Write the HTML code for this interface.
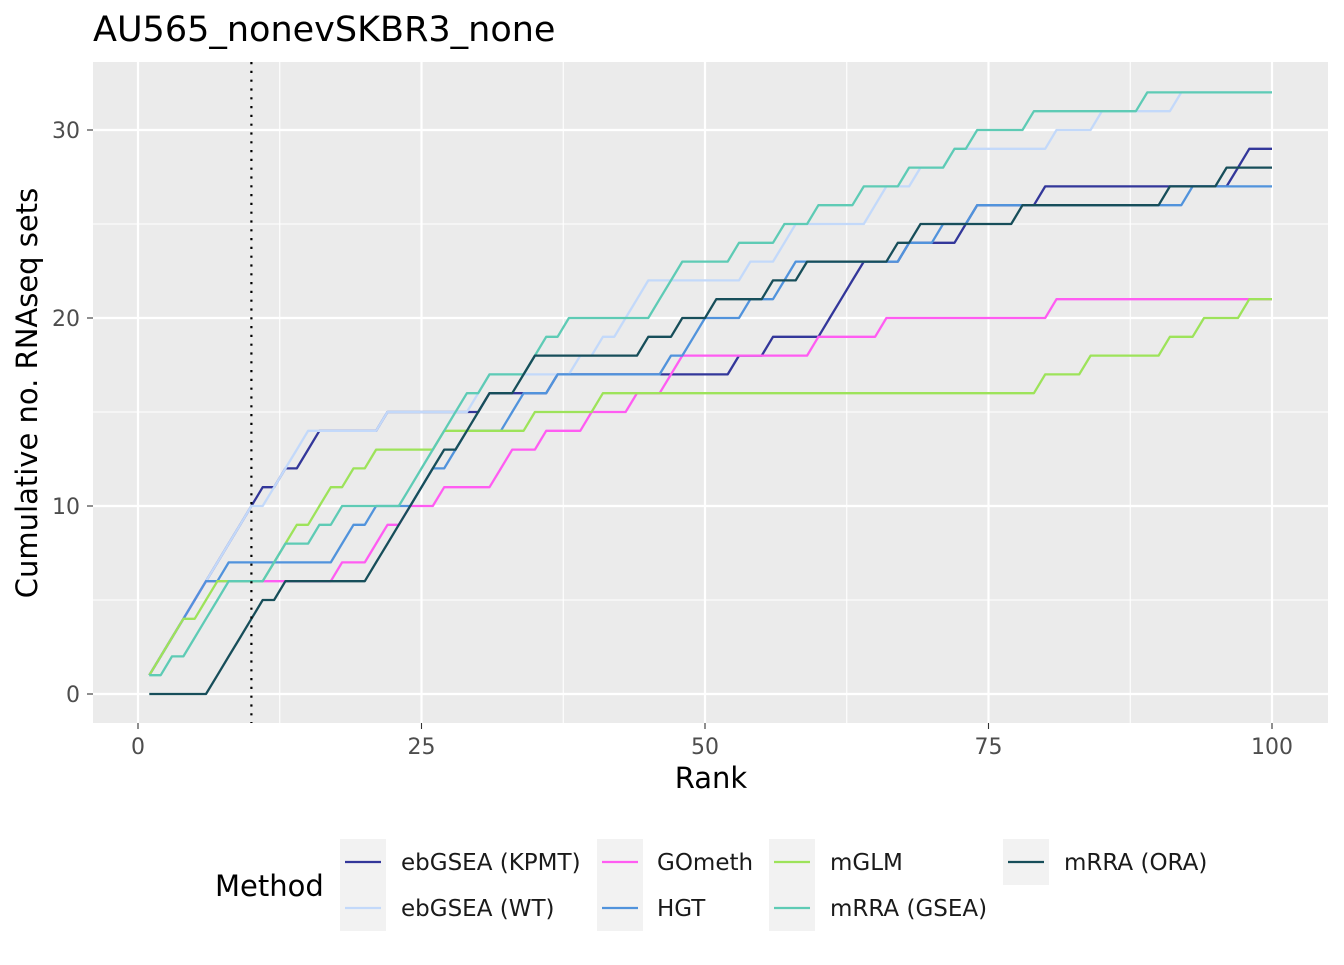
<!DOCTYPE html>
<html><head><meta charset="utf-8"><style>
body{margin:0;background:#fff;}
svg text{font-family:"DejaVu Sans","Liberation Sans",sans-serif;}
</style></head><body>
<svg id="chart" width="1344" height="960" xmlns="http://www.w3.org/2000/svg">
<rect width="1344" height="960" fill="#fff"/>
<text x="93" y="41" font-size="35" fill="#000">AU565_nonevSKBR3_none</text>
<rect x="93" y="62" width="1235" height="661" fill="#ebebeb"/>
<g id="grid"></g><g id="lines"></g><g id="axes"></g><g id="legend"></g>
</svg>
<script>
const ranks = Array.from({length:100},(_, i)=>i+1);
const xTicks = [0,25,50,75,100];
const yTicks = [0,10,20,30];
const seriesNames = ["ebGSEA (KPMT)","ebGSEA (WT)","GOmeth","HGT","mGLM","mRRA (GSEA)","mRRA (ORA)"];
// ranks at which each method found a new RNAseq set (cumulative count = hits <= rank)
const hitsKPMT = [1,2,3,4,5,6,7,8,9,10,11,13,15,16,22,31,37,53,56,61,62,63,64,68,73,74,80,97,98];
const hitsWT = [1,2,3,4,5,6,7,8,9,10,12,13,14,15,22,30,31,39,41,43,44,45,54,57,58,65,66,69,72,81,85,92];
const hitsGOmeth = [1,2,3,4,5,6,18,21,22,24,27,32,33,36,40,44,47,48,60,66,81];
const hitsHGT = [1,2,3,4,5,6,8,18,19,21,25,26,28,29,33,34,37,47,49,50,54,57,58,68,71,74,93];
const hitsMGLM = [1,2,3,4,6,7,12,13,14,16,17,19,21,27,35,41,80,84,91,94,98];
const hitsGSEA = [1,3,5,6,7,8,12,13,16,18,24,25,26,27,28,29,31,35,36,38,46,47,48,53,57,60,64,68,72,74,79,89];
const hitsORA = [7,8,9,10,11,13,21,22,23,24,25,26,27,29,30,31,34,35,45,48,51,56,59,67,69,78,91,96];
const cutoffRank = 10;

const colors = ["#33379a","#c3d9fa","#ff5cf2","#5193dc","#9de35a","#5ecbb5","#174e5a"];
const allHits = [hitsKPMT,hitsWT,hitsGOmeth,hitsHGT,hitsMGLM,hitsGSEA,hitsORA];
const X0=93,X1=1328,Y0=62,Y1=723;
const xs = v => 138 + (v-0)*(1272-138)/100;
const ys = v => 694 - v*(694-130)/30;
const NS="http://www.w3.org/2000/svg";
function mk(tag, attrs, parent){const e=document.createElementNS(NS,tag);for(const k in attrs)e.setAttribute(k,attrs[k]);parent.appendChild(e);return e;}
const grid=document.getElementById('grid'), lines=document.getElementById('lines'), axes=document.getElementById('axes'), legend=document.getElementById('legend');
for(let i=0;i<xTicks.length-1;i++){const v=(xTicks[i]+xTicks[i+1])/2;const l=mk('line',{x1:xs(v),x2:xs(v),y1:Y0,y2:Y1,stroke:'#fff','stroke-width':1.1},grid);}
const yMinor=[-5,5,15,25];
yMinor.forEach(v=>{const y=ys(v); if(y<Y0||y>Y1)return;const l=mk('line',{x1:X0,x2:X1,y1:y,y2:y,stroke:'#fff','stroke-width':1.1},grid);});
xTicks.forEach(v=>{const l=mk('line',{x1:xs(v),x2:xs(v),y1:Y0,y2:Y1,stroke:'#fff','stroke-width':2.2},grid);
 const t=mk('text',{x:xs(v),y:754,'font-size':22,'text-anchor':'middle',fill:'#4d4d4d'},axes);t.textContent=v;
 const tk=mk('line',{x1:xs(v),x2:xs(v),y1:Y1,y2:Y1+6,stroke:'#333','stroke-width':1.1},axes);});
yTicks.forEach(v=>{const l=mk('line',{x1:X0,x2:X1,y1:ys(v),y2:ys(v),stroke:'#fff','stroke-width':2.2},grid);
 const t=mk('text',{x:80,y:ys(v)+8,'font-size':22,'text-anchor':'end',fill:'#4d4d4d'},axes);t.textContent=v;
 const tk=mk('line',{x1:X0-6,x2:X0,y1:ys(v),y2:ys(v),stroke:'#333','stroke-width':1.1},axes);});
allHits.forEach((hits,si)=>{
  const pts=ranks.map(r=>{const c=hits.filter(h=>h<=r).length;return xs(r).toFixed(1)+','+ys(c).toFixed(1);});
  const p=mk('polyline',{points:pts.join(' '),fill:'none',stroke:colors[si],'stroke-width':2.3,'stroke-linejoin':'round'},lines);
  
  
});
const cut=mk('line',{x1:xs(cutoffRank),x2:xs(cutoffRank),y1:Y0,y2:Y1,stroke:'#000','stroke-width':2.2,'stroke-dasharray':'2.2,6.6'},lines);


const xt=mk('text',{x:711,y:788,'font-size':29,'text-anchor':'middle',fill:'#000'},axes);xt.textContent='Rank';


const yt=mk('text',{x:0,y:0,'font-size':29,'text-anchor':'middle',fill:'#000',transform:'translate(37,393) rotate(-90)'},axes);yt.textContent='Cumulative no. RNAseq sets';


const lt=mk('text',{x:215,y:896,'font-size':29,fill:'#000'},legend);lt.textContent='Method';


const legPos=[[340,839,401],[340,885,401],[597,839,657],[597,885,657],[769,839,830],[769,885,830],[1003,839,1064]];
seriesNames.forEach((n,i)=>{const [kx,ky,tx]=legPos[i];
 const g=mk('g',{},legend);
 mk('rect',{x:kx,y:ky,width:46,height:46,fill:'#f2f2f2'},g);
 mk('line',{x1:kx+5,x2:kx+41,y1:ky+23,y2:ky+23,stroke:colors[i],'stroke-width':2.3},g);
 const t=mk('text',{x:tx,y:ky+31,'font-size':23,fill:'#1a1a1a'},g);t.textContent=n;});
</script>
</body></html>
